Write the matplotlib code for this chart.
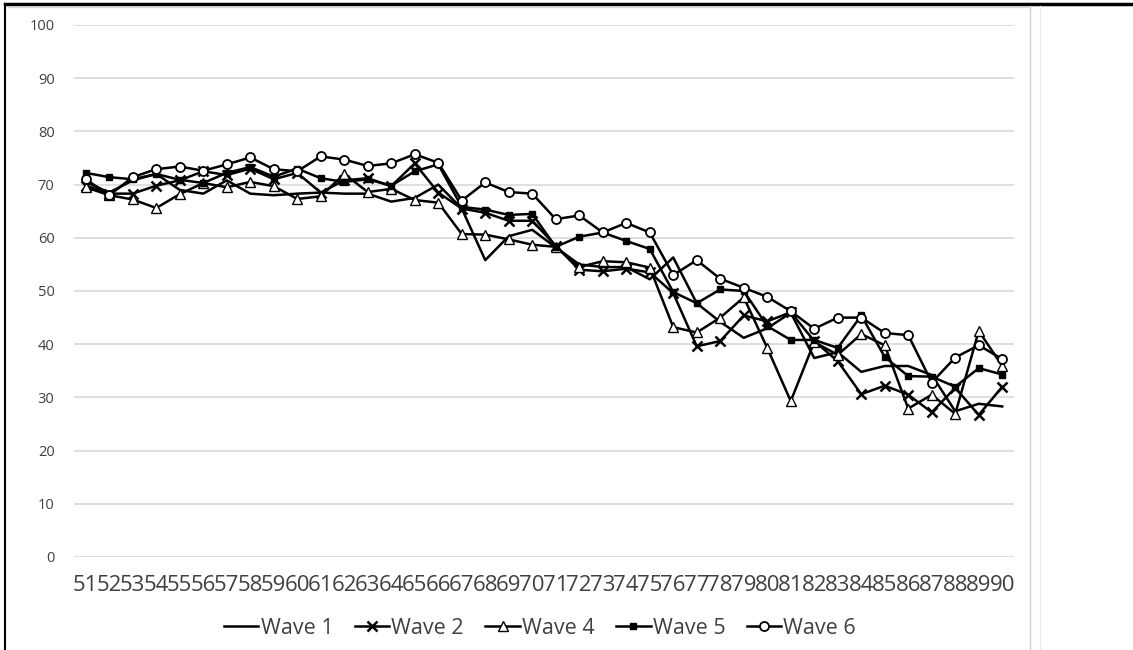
import matplotlib
matplotlib.use("Agg")
import matplotlib.pyplot as plt
from matplotlib.lines import Line2D

ages = list(range(51, 91))
tick_labels = [str(a) for a in ages]

wave1 = [70.5, 68.5, 70.8, 72.0, 69.0, 68.3, 70.8, 68.3, 68.0, 68.3,
         68.5, 68.3, 68.3, 66.8, 67.5, 70.0, 65.5, 55.8, 60.3, 61.5,
         58.2, 55.0, 54.5, 54.5, 52.2, 56.3, 47.7, 44.2, 41.2, 43.0,
         45.9, 37.4, 38.5, 34.8, 35.9, 35.9, 34.2, 27.4, 28.8, 28.3]
wave2 = [69.8, 68.3, 68.3, 69.8, 70.8, 72.5, 71.8, 73.0, 71.0, 72.2,
         68.5, 70.8, 71.2, 69.7, 74.0, 68.5, 65.5, 64.7, 63.2, 63.2,
         58.5, 54.0, 53.7, 54.2, 53.5, 49.6, 39.6, 40.6, 45.4, 44.3,
         46.0, 40.6, 36.8, 30.6, 32.2, 30.5, 27.2, 31.8, 26.7, 32.0]
wave4 = [69.5, 68.0, 67.2, 65.6, 68.2, 70.3, 69.5, 70.5, 69.7, 67.3,
         67.8, 72.0, 68.6, 69.2, 67.1, 66.6, 60.7, 60.6, 59.7, 58.7,
         58.3, 54.5, 55.6, 55.4, 54.4, 43.2, 42.2, 45.0, 48.8, 39.3,
         29.3, 40.4, 38.0, 41.9, 39.8, 27.9, 30.5, 26.9, 42.5, 35.9]
wave5 = [72.2, 71.4, 71.0, 72.0, 70.9, 70.3, 72.2, 73.3, 71.5, 73.0,
         71.2, 70.5, 71.0, 69.8, 72.5, 73.8, 65.8, 65.3, 64.3, 64.5,
         58.3, 60.2, 61.0, 59.4, 57.9, 49.8, 47.7, 50.3, 50.0, 43.4,
         40.8, 40.8, 39.3, 45.4, 37.6, 34.0, 33.9, 32.0, 35.5, 34.3]
wave6 = [71.0, 68.0, 71.4, 72.9, 73.4, 72.6, 73.8, 75.1, 72.9, 72.5,
         75.3, 74.7, 73.5, 74.0, 75.7, 74.1, 67.0, 70.4, 68.6, 68.3,
         63.5, 64.2, 61.0, 62.8, 61.0, 53.0, 55.8, 52.3, 50.6, 48.9,
         46.2, 42.9, 45.0, 45.0, 42.1, 41.7, 32.8, 37.5, 39.8, 37.2]

series_names = ["Wave 1", "Wave 2", "Wave 4", "Wave 5", "Wave 6"]
series_vals = [wave1, wave2, wave4, wave5, wave6]

W, H = 1133, 650
fig = plt.figure(figsize=(W / 100, H / 100), dpi=100)
plt.rcParams['font.family'] = ['Open Sans', 'DejaVu Sans']

# axes: x 74..1014 px, y 25..557 px
ax = fig.add_axes([74 / W, 1 - 557 / H, (1014 - 74) / W, (557 - 25) / H])

styles = [
    dict(marker=None),
    dict(marker='x', markersize=6.5, markeredgewidth=1.8, markerfacecolor='black'),
    dict(marker='^', markersize=6.5, markeredgewidth=1.0, markerfacecolor='white'),
    dict(marker='s', markersize=4.8, markeredgewidth=1.0, markerfacecolor='black'),
    dict(marker='o', markersize=6.5, markeredgewidth=1.3, markerfacecolor='white'),
]

handles = []
for name, vals, st in zip(series_names, series_vals, styles):
    ln, = ax.plot(ages, vals, color='black', linewidth=1.8, label=name,
                  markeredgecolor='black', **st)
    handles.append(ln)

ax.set_xlim(50.5, 90.5)
ax.set_ylim(0, 100)
ax.set_yticks(range(0, 101, 10))
ax.set_xticks(ages)
ax.set_xticklabels(tick_labels)
ax.grid(axis='y', color='#d9d9d9', linewidth=1.2)
ax.set_axisbelow(True)
for sp in ax.spines.values():
    sp.set_visible(False)
ax.tick_params(axis='both', length=0, colors='#404040')
ax.tick_params(axis='x', labelsize=16, pad=13)
ax.tick_params(axis='y', labelsize=10.5, pad=14)

leg = fig.legend(handles=handles, labels=series_names, loc='center',
                 bbox_to_anchor=(540 / W, 1 - 628 / H), ncol=5, frameon=False,
                 fontsize=15.5, handlelength=1.6, handletextpad=0.1,
                 columnspacing=1.0, labelcolor='#404040')

# frame lines (document border and chart area border)
fig.add_artist(Line2D([5 / W, 1], [1 - 4 / H, 1 - 4 / H], color='black', linewidth=2.5,
                      transform=fig.transFigure))
fig.add_artist(Line2D([5 / W, 5 / W], [0, 1 - 4 / H], color='black', linewidth=1.5,
                      transform=fig.transFigure))
fig.add_artist(Line2D([1030 / W, 1030 / W], [0, 1 - 6 / H], color='#d0d0d0', linewidth=1.0,
                      transform=fig.transFigure))
fig.add_artist(Line2D([8 / W, 1030 / W], [1 - 7 / H, 1 - 7 / H], color='#d9d9d9', linewidth=1.0,
                      transform=fig.transFigure))
fig.add_artist(Line2D([1040 / W, 1040 / W], [0, 1 - 6 / H], color='#ececec', linewidth=1.0,
                      transform=fig.transFigure))

fig.savefig('out.png', dpi=100)
